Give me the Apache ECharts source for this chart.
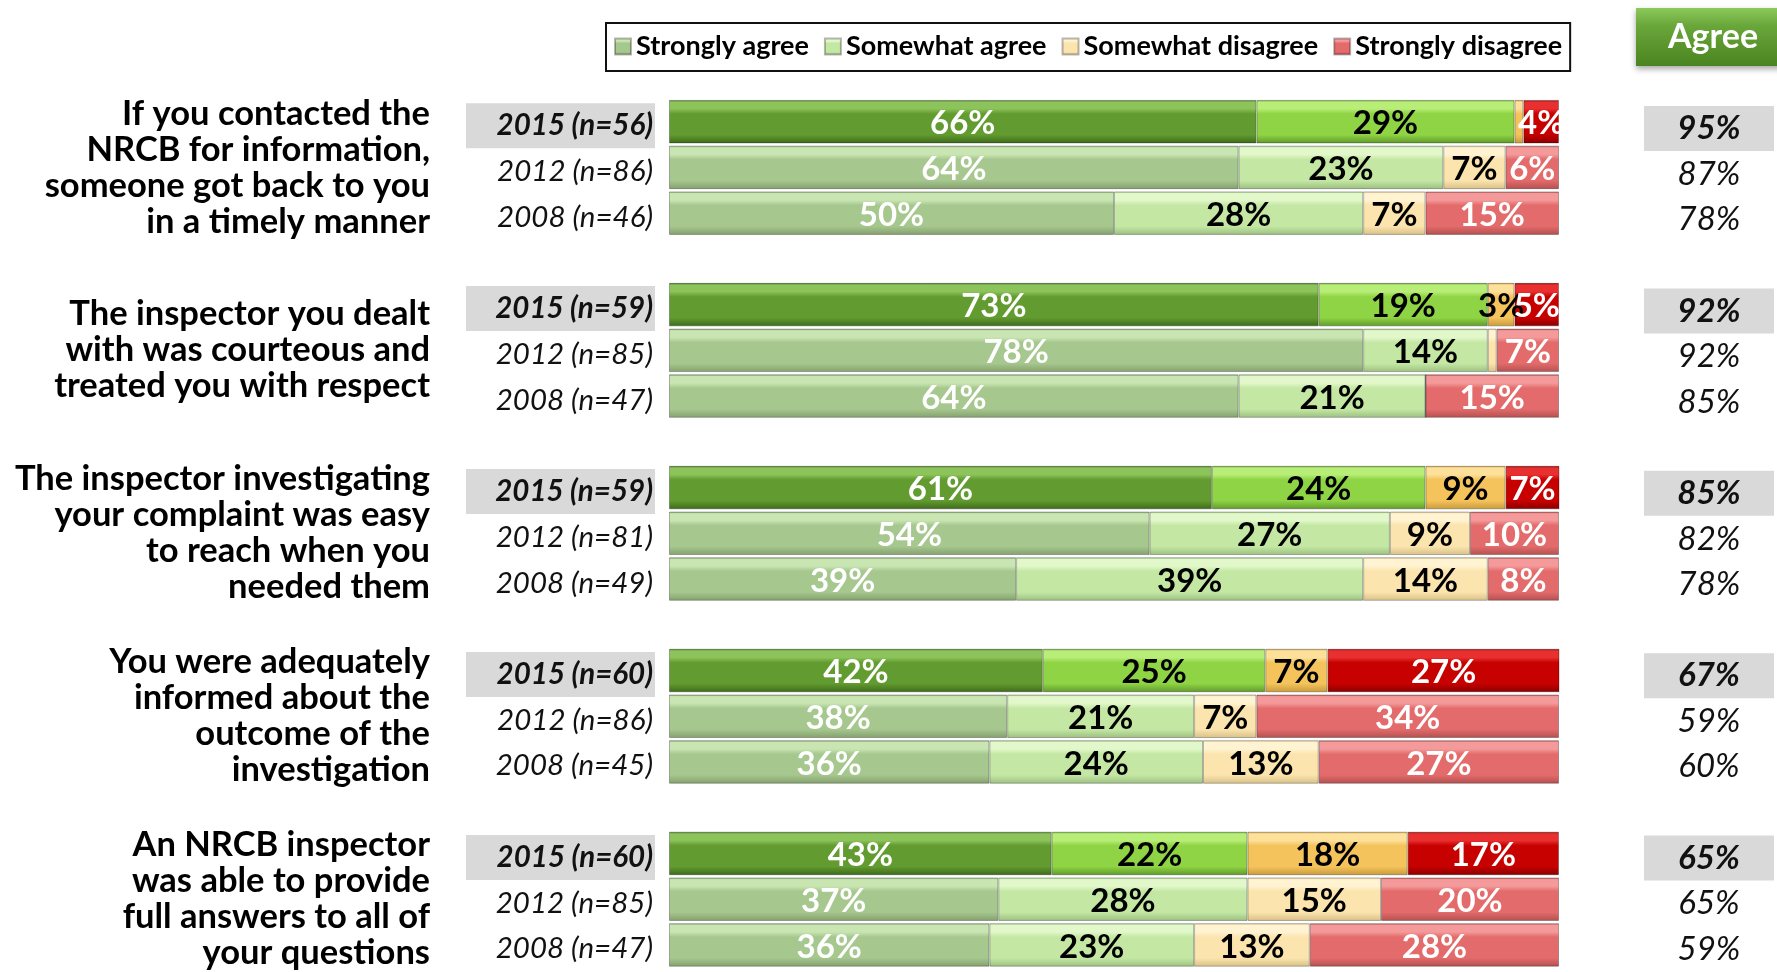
<!DOCTYPE html>
<html>
<head>
<meta charset="utf-8">
<title>NRCB inspector ratings</title>
<style type="text/css">
html, body { margin: 0; padding: 0; background: #ffffff; }
#chart { width: 1777px; height: 972px; }
</style>
</head>
<body>
<div id="chart"></div>
<script src="https://cdn.jsdelivr.net/npm/echarts@6/dist/echarts.min.js"></script>
<script type="text/javascript">
// statements, one per group of 3 rows (2015, 2012, 2008)
var questions = [
    'If you contacted the\nNRCB for information,\nsomeone got back to you\nin a timely manner',
    'The inspector you dealt\nwith was courteous and\ntreated you with respect',
    'The inspector investigating\nyour complaint was easy\nto reach when you\nneeded them',
    'You were adequately\ninformed about the\noutcome of the\ninvestigation',
    'An NRCB inspector\nwas able to provide\nfull answers to all of\nyour questions'
];
var yearLabels = [
    '2015 (n=56)', '2012 (n=86)', '2008 (n=46)',
    '2015 (n=59)', '2012 (n=85)', '2008 (n=47)',
    '2015 (n=59)', '2012 (n=81)', '2008 (n=49)',
    '2015 (n=60)', '2012 (n=86)', '2008 (n=45)',
    '2015 (n=60)', '2012 (n=85)', '2008 (n=47)'
];
var stronglyAgree    = [66, 64, 50, 73, 78, 64, 61, 54, 39, 42, 38, 36, 43, 37, 36];
var somewhatAgree    = [29, 23, 28, 19, 14, 21, 24, 27, 39, 25, 21, 24, 22, 28, 23];
var somewhatDisagree = [1, 7, 7, 3, 1, 0, 9, 9, 14, 7, 7, 13, 18, 15, 13];
var stronglyDisagree = [4, 6, 15, 5, 7, 15, 7, 10, 8, 27, 34, 27, 17, 20, 28];
var agreeTotal       = [95, 87, 78, 92, 92, 85, 85, 82, 78, 67, 59, 60, 65, 65, 59];
var seriesNames = ['Strongly agree', 'Somewhat agree', 'Somewhat disagree', 'Strongly disagree'];

var FONT = 'Lato';

// [body, highlight, shade] : bright for 2015, faded for older years
var brightColors = [
    ['#629b2f', '#8cc35a', '#3d6a1a'],
    ['#8fd444', '#b8ee78', '#5f9a2a'],
    ['#f4c35c', '#fde09a', '#c89a3a'],
    ['#c70000', '#e83030', '#8a0000']
];
var fadedColors = [
    ['#a6c78e', '#c9e6b2', '#84a06e'],
    ['#c4e8a4', '#e2f8ca', '#9cbf80'],
    ['#fbe4ad', '#fff3d2', '#d8bf88'],
    ['#e36b6b', '#f49a9a', '#b45050']
];
var labelColors = ['#ffffff', '#000000', '#000000', '#ffffff'];

function bevel(c) {
    return {
        type: 'linear', x: 0, y: 0, x2: 0, y2: 1,
        colorStops: [
            {offset: 0, color: c[2]},
            {offset: 0.05, color: c[1]},
            {offset: 0.2, color: c[1]},
            {offset: 0.32, color: c[0]},
            {offset: 0.8, color: c[0]},
            {offset: 1, color: c[2]}
        ]
    };
}

// 3 rows per group + one empty row between groups
var rows = [];      // category ids
var rowIndex = [];  // row -> data index (or -1 for spacer)
for (var g = 0; g < questions.length; g++) {
    for (var k = 0; k < 3; k++) {
        rows.push('r' + rows.length);
        rowIndex.push(g * 3 + k);
    }
    if (g < questions.length - 1) {
        rows.push('r' + rows.length);
        rowIndex.push(-1);
    }
}

function buildData(values, s) {
    return rowIndex.map(function (i) {
        if (i < 0) return '-';
        var bright = (i % 3 === 0);
        return {
            value: values[i],
            itemStyle: {color: bevel(bright ? brightColors[s] : fadedColors[s])}
        };
    });
}

var allValues = [stronglyAgree, somewhatAgree, somewhatDisagree, stronglyDisagree];
var series = allValues.map(function (vals, s) {
    return {
        name: seriesNames[s],
        type: 'bar',
        stack: 'total',
        barWidth: 43.5,
        xAxisIndex: 0,
        yAxisIndex: 0,
        itemStyle: {color: bevel(fadedColors[s]), borderColor: 'rgba(0,0,0,0.28)', borderWidth: 1},
        label: {
            show: true,
            position: 'inside',
            offset: [0, 2],
            color: labelColors[s],
            fontFamily: FONT,
            fontWeight: 'bold',
            fontSize: 33,
            formatter: function (p) { return p.value >= 3 ? p.value + '%' : ''; }
        },
        data: buildData(vals, s)
    };
});

var hiddenAxis = {
    type: 'category',
    inverse: true,
    data: rows,
    axisLine: {show: false},
    axisTick: {show: false},
    splitLine: {show: false}
};
var hiddenValue = {type: 'value', min: 0, max: 100, show: false};

// bar grid + two label grids nudged down a few px (text sits a bit low in the original)
var gridTop = 98.8, gridHeight = 869;
var myChart = echarts.init(document.getElementById('chart'));
var option = {
    backgroundColor: '#ffffff',
    animation: false,
    legend: {
        data: seriesNames,
        left: 606,
        top: 23,
        padding: [10, 8, 11, 8],
        borderColor: '#111111',
        borderWidth: 2,
        itemWidth: 16,
        itemHeight: 16,
        itemGap: 15,
        icon: 'rect',
        textStyle: {fontFamily: FONT, fontWeight: 'bold', fontSize: 27, color: '#000000'}
    },
    grid: [
        {left: 669, right: 218, top: gridTop, height: gridHeight},
        {left: 669, right: 218, top: gridTop + 4, height: gridHeight},
        {left: 669, right: 218, top: gridTop + 7, height: gridHeight}
    ],
    xAxis: [
        Object.assign({gridIndex: 0}, hiddenValue),
        Object.assign({gridIndex: 1}, hiddenValue),
        Object.assign({gridIndex: 2}, hiddenValue)
    ],
    yAxis: [
        // statement text, centred on the middle row of each group
        Object.assign({}, hiddenAxis, {
            gridIndex: 0,
            position: 'left',
            axisLabel: {
                interval: 0,
                margin: 239,
                align: 'right',
                fontFamily: FONT,
                fontWeight: 'bold',
                fontSize: 34.5,
                lineHeight: 36,
                color: '#000',
                formatter: function (v, idx) {
                    var i = rowIndex[idx];
                    if (i < 0 || i % 3 !== 1) return '';
                    return questions[(i - 1) / 3];
                }
            }
        }),
        // year + sample size
        Object.assign({}, hiddenAxis, {
            gridIndex: 1,
            position: 'left',
            axisLabel: {
                interval: 0,
                margin: 14,
                formatter: function (v, idx) {
                    var i = rowIndex[idx];
                    if (i < 0) return '';
                    return (i % 3 === 0 ? '{hi|' : '{lo|') + yearLabels[i] + '}';
                },
                rich: {
                    hi: {fontFamily: FONT, fontSize: 29.5, fontStyle: 'italic', fontWeight: 'bold', color: '#111',
                         backgroundColor: '#d9d9d9', width: 175, height: 45, align: 'right', padding: [0, 2, 0, 12]},
                    lo: {fontFamily: FONT, fontSize: 29.5, fontStyle: 'italic', color: '#111', align: 'right', padding: [0, 2, 0, 0]}
                }
            }
        }),
        // total agree column
        Object.assign({}, hiddenAxis, {
            gridIndex: 2,
            position: 'right',
            axisLabel: {
                interval: 0,
                margin: 88,
                formatter: function (v, idx) {
                    var i = rowIndex[idx];
                    if (i < 0) return '';
                    return (i % 3 === 0 ? '{hi|' : '{lo|') + agreeTotal[i] + '%}';
                },
                rich: {
                    hi: {fontFamily: FONT, fontSize: 33, fontStyle: 'italic', fontWeight: 'bold', color: '#111',
                         backgroundColor: '#d9d9d9', width: 130, height: 45, align: 'center'},
                    lo: {fontFamily: FONT, fontSize: 33, fontStyle: 'italic', color: '#111', width: 130, align: 'center'}
                }
            }
        })
    ],
    graphic: [
        {
            type: 'group',
            left: 1636,
            top: 8,
            children: [
                {
                    type: 'rect',
                    shape: {x: 0, y: 0, width: 160, height: 58},
                    style: {
                        fill: {type: 'linear', x: 0, y: 0, x2: 0, y2: 1, colorStops: [
                            {offset: 0, color: '#8cc85a'}, {offset: 0.3, color: '#6aa73a'}, {offset: 1, color: '#4a8420'}
                        ]},
                        shadowBlur: 6, shadowOffsetY: 3, shadowColor: 'rgba(0,0,0,0.35)'
                    }
                },
                {
                    type: 'text',
                    x: 77, y: 29,
                    style: {text: 'Agree', fill: '#ffffff', font: 'bold 34px Lato', align: 'center', verticalAlign: 'middle'}
                }
            ]
        }
    ],
    series: series
};
myChart.setOption(option);
</script>
</body>
</html>
